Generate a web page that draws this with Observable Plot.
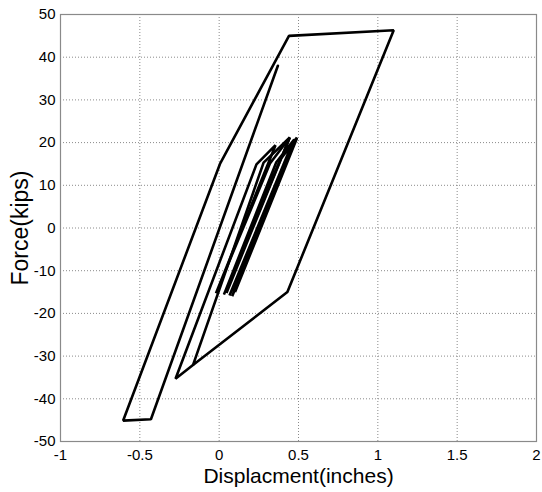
<!DOCTYPE html>
<html>
<head>
<meta charset="utf-8">
<script src="https://cdn.jsdelivr.net/npm/d3@7"></script>
<script src="https://cdn.jsdelivr.net/npm/@observablehq/plot@0.6"></script>
<style>
  html, body { margin: 0; padding: 0; background: #fff; }
  #chart svg { display: block; font-family: "Liberation Sans", Arial, sans-serif; color: #000; background: #fff; }
</style>
</head>
<body>
<div id="chart"></div>
<script>
// Tick values and labels
const xTicks = [-1, -0.5, 0, 0.5, 1, 1.5, 2];
const xTickLabels = ["-1", "-0.5", "0", "0.5", "1", "1.5", "2"];
const yTicks = [50, 40, 30, 20, 10, 0, -10, -20, -30, -40, -50];
const yTickLabels = ["50", "40", "30", "20", "10", "0", "-10", "-20", "-30", "-40", "-50"];

// Axis titles
const xTitle = "Displacment(inches)";
const yTitle = "Force(kips)";

// Outer (large-amplitude) loop: displacement (in) and force (kips)
const outerDisp  = [0.37, -0.43, -0.605, 0.005, 0.44, 1.1, 0.43, -0.165, 0.28, 0.445, 0.03, 0.36, 0.47];
const outerForce = [38.0, -44.8, -45.1, 15.0, 45.0, 46.3, -15.0, -32.1, 15.3, 21.2, -15.6, 15.4, 20.6];

// Inner (small-amplitude) cycles
const innerDisp  = [-0.165, -0.275, 0.235, 0.355, -0.02, 0.32, 0.445, 0.046, 0.385, 0.49, 0.082, 0.47, 0.1, 0.49, 0.065, 0.46];
const innerForce = [-32.1, -35.3, 14.9, 19.4, -15.3, 15.1, 21.2, -15.2, 16.0, 21.2, -16.0, 20.4, -15.0, 21.0, -15.8, 19.8];

const rows = [
  ...outerDisp.map((d, i) => ({disp: d, force: outerForce[i], loop: "outer"})),
  ...innerDisp.map((d, i) => ({disp: d, force: innerForce[i], loop: "inner"}))
];

const chart = Plot.plot({
  width: 542,
  height: 492,
  marginLeft: 60,
  marginRight: 6,
  marginTop: 14,
  marginBottom: 51,
  style: {fontFamily: '"Liberation Sans", Arial, sans-serif', color: "#000", background: "#fff"},
  x: {domain: [-1, 2]},
  y: {domain: [-50, 50]},
  marks: [
    Plot.gridX(xTicks.slice(1, -1), {stroke: "#8a8a8a", strokeOpacity: 1, strokeDasharray: "1,2", strokeWidth: 1}),
    Plot.gridY(yTicks.slice(1, -1), {stroke: "#8a8a8a", strokeOpacity: 1, strokeDasharray: "1,2", strokeWidth: 1}),
    Plot.frame({stroke: "#8a8a8a", strokeWidth: 1.2}),
    Plot.axisX(xTicks, {
      tickSize: 0, tickPadding: 8, fontSize: 15, label: null,
      tickFormat: d => xTickLabels[xTicks.indexOf(d)]
    }),
    Plot.axisY(yTicks, {
      tickSize: 0, tickPadding: 5, fontSize: 15, label: null,
      tickFormat: d => yTickLabels[yTicks.indexOf(d)]
    }),
    Plot.line(rows, {x: "disp", y: "force", z: "loop", stroke: "#000", strokeWidth: 2.6, strokeLinejoin: "miter", curve: "linear"}),
    Plot.text([xTitle], {frameAnchor: "bottom", lineAnchor: "middle", textAnchor: "middle", dy: 35, fontSize: 21, fill: "#000"}),
    Plot.text([yTitle], {frameAnchor: "left", lineAnchor: "middle", textAnchor: "middle", rotate: -90, dx: -40, fontSize: 23, fill: "#000"})
  ]
});

document.getElementById("chart").appendChild(chart);
</script>
</body>
</html>
